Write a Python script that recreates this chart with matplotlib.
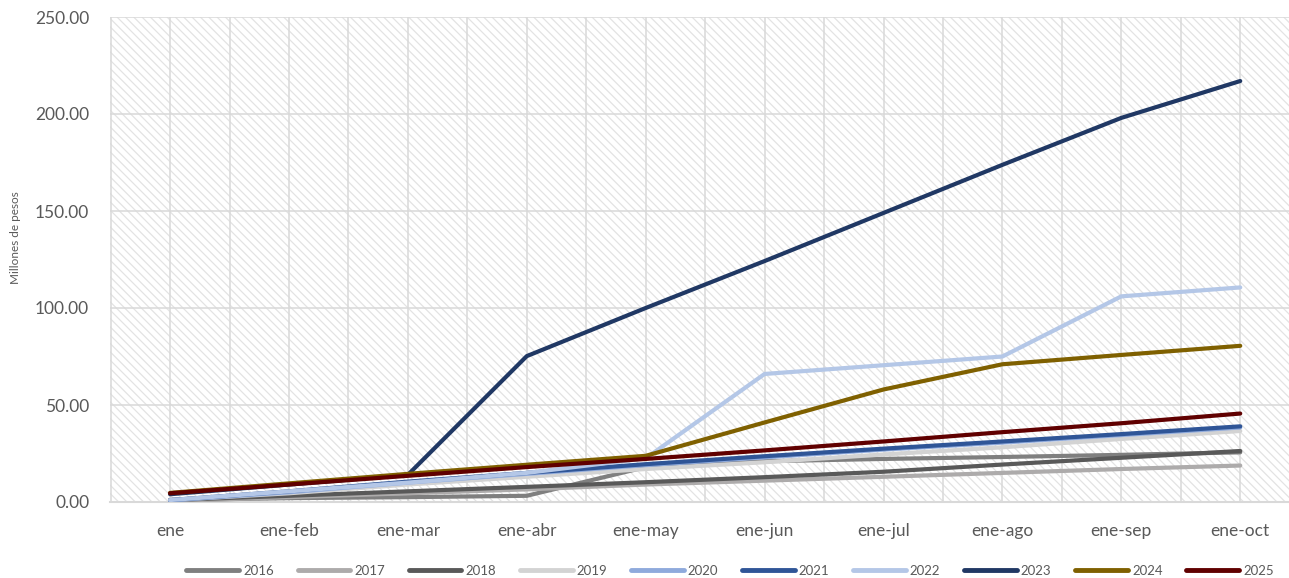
import matplotlib.pyplot as plt
from matplotlib.patches import Rectangle
import numpy as np

plt.rcParams['font.family'] = ['Lato', 'DejaVu Sans']
plt.rcParams['hatch.linewidth'] = 0.9

months = ["ene", "ene-feb", "ene-mar", "ene-abr", "ene-may",
          "ene-jun", "ene-jul", "ene-ago", "ene-sep", "ene-oct"]

y2016 = [1.0, 2.0, 2.5, 3.2, 18.0, 21.0, 22.2, 23.2, 24.3, 25.6]
y2017 = [0.5, 2.5, 4.5, 6.5, 9.0, 11.0, 13.0, 15.0, 17.0, 18.8]
y2018 = [1.0, 3.2, 5.5, 7.8, 10.2, 12.8, 15.6, 19.3, 22.8, 26.3]
y2019 = [1.0, 4.5, 9.0, 13.0, 17.0, 20.5, 24.5, 28.2, 32.5, 36.6]
y2020 = [0.8, 5.0, 10.0, 14.5, 19.0, 23.0, 27.0, 30.6, 34.5, 38.4]
y2021 = [1.0, 5.5, 10.5, 15.0, 19.5, 23.6, 27.5, 31.2, 35.0, 39.0]
y2022 = [1.0, 5.5, 10.0, 15.0, 22.5, 66.0, 70.5, 75.0, 106.0, 110.6]
y2023 = [4.0, 9.0, 14.0, 75.2, 100.0, 124.2, 149.0, 173.8, 198.0, 217.0]
y2024 = [4.7, 9.6, 14.5, 19.2, 23.8, 41.0, 58.0, 71.0, 75.8, 80.5]
y2025 = [4.5, 9.0, 13.5, 18.0, 22.2, 26.6, 31.2, 36.0, 40.6, 45.6]

years = ["2016", "2017", "2018", "2019", "2020",
         "2021", "2022", "2023", "2024", "2025"]
series = [y2016, y2017, y2018, y2019, y2020,
          y2021, y2022, y2023, y2024, y2025]
colors = ["#7F7F7F", "#ADABAB", "#595959", "#D3D3D3", "#8FAADC",
          "#2F5597", "#B4C7E7", "#203864", "#7F6000", "#600000"]

fig = plt.figure(figsize=(12.89, 5.78), dpi=100)
ax = fig.add_axes([110 / 1289, 76 / 578, 1179 / 1289, 485 / 578])

x = np.arange(len(months))
ax.set_xlim(-0.505, 9.41)
ax.set_ylim(0, 250)

# hatched plot area background
ax.add_patch(Rectangle((0, 0), 1, 1, transform=ax.transAxes, facecolor="white",
                       edgecolor="#E3E3E3", hatch="\\\\\\\\", linewidth=0, zorder=0))

# gridlines at categories and between them
for gx in np.arange(-0.5, 10, 0.5):
    ax.axvline(gx, color="#D9D9D9", lw=1.1, zorder=1)
for gy in [50, 100, 150, 200, 250]:
    ax.axhline(gy, color="#D9D9D9", lw=1.1, zorder=1)

for yr, vals, c in zip(years, series, colors):
    ax.plot(x, vals, color=c, lw=3, solid_capstyle="round", label=yr, zorder=3)

for s in ["top", "right", "left"]:
    ax.spines[s].set_visible(False)
ax.spines["bottom"].set_color("#D9D9D9")
ax.spines["bottom"].set_linewidth(1.5)

ax.set_xticks(x)
ax.set_xticklabels(months)
ax.set_yticks([0, 50, 100, 150, 200, 250])
ax.set_yticklabels(["0.00", "50.00", "100.00", "150.00", "200.00", "250.00"])
ax.tick_params(axis="both", length=0, labelsize=12.5, labelcolor="#595959")
ax.tick_params(axis="x", pad=15)
ax.tick_params(axis="y", pad=15)

fig.text(16 / 1289, 1 - 238 / 578, "Millones de pesos", rotation=90,
         ha="center", va="center", fontsize=8.5, color="#595959")

leg = fig.legend(loc="center", bbox_to_anchor=(730 / 1289, 7 / 578), ncol=10,
                 frameon=False, fontsize=9.5, handlelength=4, handletextpad=0.3,
                 columnspacing=1.8)
for line in leg.get_lines():
    line.set_linewidth(3.5)
for t in leg.get_texts():
    t.set_color("#595959")

fig.savefig("out.png", dpi=100)
